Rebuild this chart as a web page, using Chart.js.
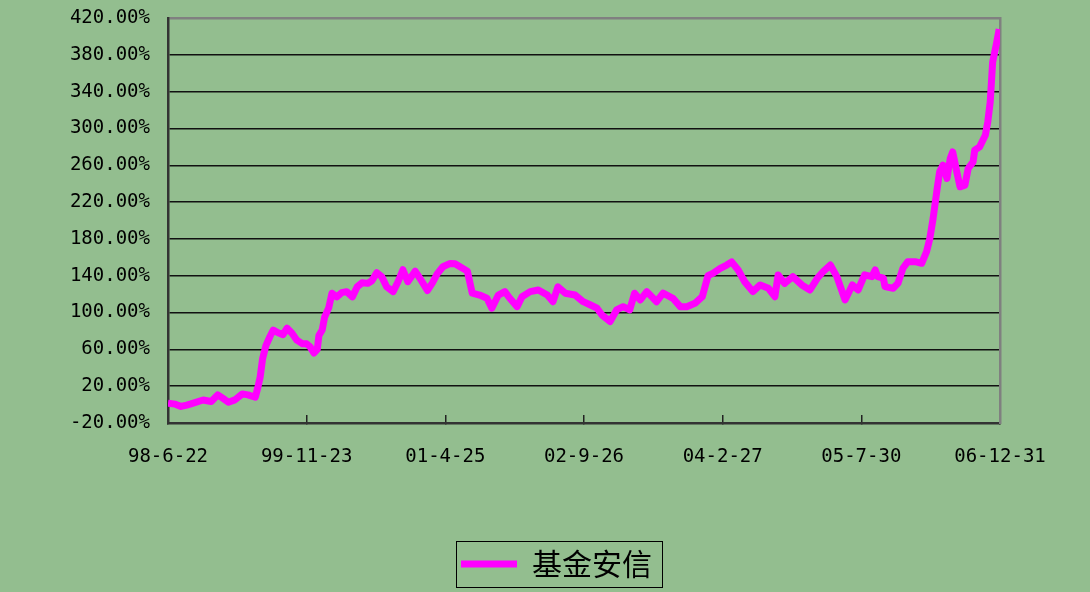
<!DOCTYPE html>
<html>
<head>
<meta charset="utf-8">
<script src="https://cdn.jsdelivr.net/npm/chart.js@4/dist/chart.umd.min.js"></script>
<style>
  body { margin: 0; background: #93be8f; }
  #wrap { width: 1090px; height: 592px; }
</style>
</head>
<body>
<div id="wrap"><canvas id="chart_canvas" width="1090" height="592"></canvas></div>
<script>
// x = months since 98-6-22, y = cumulative return (%)
const tickLabels = ['98-6-22', '99-11-23', '01-4-25', '02-9-26', '04-2-27', '05-7-30', '06-12-31'];
const seriesName = '基金安信';

const months = [
    0, 0.9, 1.6, 2.3, 3.1, 4.3, 5.3, 6.1, 6.7, 7.4,
    8.2, 9.1, 9.8, 10.7, 11.0, 11.3, 11.6, 12.0, 12.5, 12.9,
    13.5, 14.1, 14.6, 15.2, 15.8, 16.5, 17.0, 17.4, 17.9, 18.3,
    18.5, 18.9, 19.2, 19.7, 20.1, 20.7, 21.3, 21.9, 22.6, 23.2,
    23.8, 24.5, 25.0, 25.6, 26.2, 26.8, 27.6, 28.2, 28.8, 29.4,
    30.3, 30.9, 31.8, 32.4, 33.0, 33.7, 34.6, 35.2, 35.8, 36.7,
    37.3, 38.2, 39.1, 39.7, 40.5, 41.3, 41.9, 42.8, 43.4, 44.4,
    45.4, 46.5, 47.2, 47.8, 48.7, 49.9, 50.9, 51.6, 52.6, 53.2,
    54.2, 55.0, 55.8, 56.6, 57.2, 57.9, 58.7, 59.9, 60.7, 61.9,
    62.8, 63.6, 64.6, 65.5, 66.2, 66.8, 67.7, 68.5, 69.1, 69.9,
    70.7, 71.7, 72.6, 73.6, 74.4, 74.8, 75.6, 76.6, 77.7, 78.7,
    79.6, 80.3, 81.2, 82.0, 83.0, 83.9, 84.6, 85.4, 86.3, 86.7,
    87.0, 87.7, 87.9, 88.9, 89.5, 90.1, 90.7, 91.6, 92.4, 93.0,
    93.4, 93.8, 94.3, 94.6, 95.0, 95.5, 95.9, 96.2, 96.7, 97.1,
    97.7, 98.1, 98.7, 98.9, 99.5, 100.2, 100.5, 100.8, 101.0, 101.1,
    101.6, 101.9
];
const returns = [
    1.6, 0.5, -2, -0.5, 1.6, 5, 3.3, 10.6, 7, 2.5,
    5.1, 11.6, 10.6, 8, 18, 30, 50, 64, 74, 81,
    78, 76, 83, 77.5, 70, 66, 66, 63, 56, 60,
    75, 81, 95, 105, 121, 117, 121.6, 122.7, 117, 128,
    132.4, 131.7, 134.6, 143.3, 139, 128, 122.7, 133.5, 146.5, 133.5,
    145, 137, 124, 132, 142, 149.8, 153.4, 153, 149.8, 145,
    121, 119, 115.5, 104.7, 119, 122.7, 115.5, 106.4, 117.2, 122.7,
    124.5, 119, 111.8, 128, 121, 119, 111.8, 109, 104.7, 97.4,
    90.2, 102.8, 106.4, 102.8, 121, 113.7, 122.7, 111.8, 121, 115.5,
    106.4, 106.4, 110, 117.2, 140, 142.6, 148, 151.6, 155, 146.2,
    133.5, 122.7, 130, 126.4, 117.2, 140.8, 131.7, 139, 130, 124.5,
    137.2, 144.3, 151.6, 139, 113.7, 130, 124.5, 140.9, 139, 146.3,
    139, 137.3, 128.2, 126.4, 131.9, 148.1, 155.3, 155.3, 153.5, 166.1,
    180.6, 202.3, 234.9, 252.9, 260.1, 245.7, 267.4, 274.5, 252.9, 236.6,
    238.4, 256.5, 263.7, 276.4, 280, 292.6, 307, 328.7, 357.7, 372.1,
    393.8, 408
];

const points = months.map((m, i) => ({ x: m, y: returns[i] }));
const monoFont = { family: 'DejaVu Sans Mono', size: 19 };

// frame round the legend item, like the excel legend box
const legendFrame = {
    id: 'legendFrame',
    afterDraw(chart) {
        const box = chart.legend.legendHitBoxes[0];
        if (!box) return;
        const ctx = chart.ctx;
        ctx.save();
        ctx.strokeStyle = '#000';
        ctx.lineWidth = 1;
        ctx.strokeRect(box.left - 4.5, box.top - 7.5, box.width + 15, box.height + 16);
        ctx.restore();
    }
};

new Chart(document.getElementById('chart_canvas'), {
    type: 'line',
    data: {
        datasets: [{
            label: seriesName,
            data: points,
            borderColor: '#ff00ff',
            backgroundColor: '#ff00ff',
            borderWidth: 7,
            pointRadius: 0,
            tension: 0,
            borderJoinStyle: 'round',
            fill: false
        }]
    },
    options: {
        responsive: false,
        animation: false,
        devicePixelRatio: 1,
        layout: { padding: { left: 23, right: 0, top: 18, bottom: 3 } },
        scales: {
            x: {
                type: 'linear',
                min: 0,
                max: 102,
                afterFit(s) { s.height = 124; },
                ticks: {
                    stepSize: 17,
                    color: '#000',
                    font: monoFont,
                    padding: 31,
                    maxRotation: 0,
                    callback: (v) => tickLabels[Math.round(v / 17)]
                },
                grid: { drawOnChartArea: false, drawTicks: true, tickLength: -8, color: '#222', lineWidth: 1.5 },
                border: { color: '#333', width: 2.5 }
            },
            y: {
                min: -20,
                max: 420,
                afterFit(s) { s.width = 145; },
                ticks: {
                    stepSize: 40,
                    color: '#000',
                    font: monoFont,
                    padding: 0,
                    callback: (v) => v.toFixed(2) + '%'
                },
                grid: {
                    drawTicks: true,
                    tickLength: 18,
                    tickColor: 'rgba(0,0,0,0)',
                    color: (c) => c.tick && c.tick.value === 420 ? '#808080' : '#111',
                    lineWidth: (c) => c.tick && c.tick.value === 420 ? 2.5 : 1.4
                },
                border: { color: '#333', width: 2.5 }
            },
            y2: {
                position: 'right',
                afterFit(s) { s.width = 90; },
                ticks: { display: false },
                grid: { display: false, drawTicks: false },
                border: { display: true, color: '#808080', width: 2.5 }
            }
        },
        plugins: {
            legend: {
                position: 'bottom',
                labels: {
                    usePointStyle: true,
                    pointStyle: 'line',
                    pointStyleWidth: 56,
                    padding: 2,
                    color: '#000',
                    font: { family: 'Noto Sans CJK SC', size: 30 }
                }
            },
            tooltip: { enabled: false }
        }
    },
    plugins: [legendFrame]
});
</script>
</body>
</html>
